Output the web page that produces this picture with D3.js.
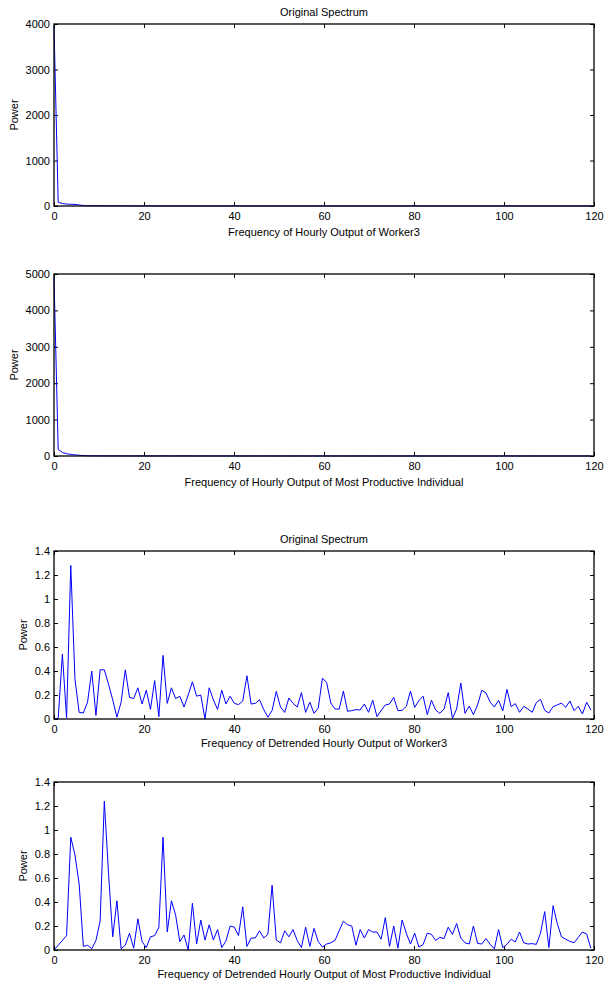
<!DOCTYPE html>
<html>
<head>
<meta charset="utf-8">
<script src="https://cdn.jsdelivr.net/npm/d3@7"></script>
<style>
  html, body { margin: 0; padding: 0; background: #fff; }
  svg text { font-family: "Liberation Sans", Arial, Helvetica, sans-serif; fill: #000; }
</style>
</head>
<body>
<svg id="chart" width="609" height="983"></svg>
<script>
// ---------------- data ----------------
const FREQ_STEP = 0.932;            // spacing of the frequency grid
const xTicks = [0, 20, 40, 60, 80, 100, 120];
const yTicksWorker = [0, 1000, 2000, 3000, 4000];
const yTicksIndividual = [0, 1000, 2000, 3000, 4000, 5000];
const yTicksDetrended = [0, 0.2, 0.4, 0.6, 0.8, 1, 1.2, 1.4];

const titles = ["Original Spectrum", "", "Original Spectrum", ""];
const xLabels = [
  "Frequency of Hourly Output of Worker3",
  "Frequency of Hourly Output of Most Productive Individual",
  "Frequency of Detrended Hourly Output of Worker3",
  "Frequency of Detrended Hourly Output of Most Productive Individual"
];
const yLabel = "Power";

const powerWorker3 = [
  3950, 80, 55, 42, 38, 34, 22, 12, 8, 6,
  5, 5, 4, 4, 3, 4, 3, 3, 2, 3,
  3, 2, 2, 3, 2, 2, 3, 2, 2, 2,
  2, 3, 2, 2, 1, 2, 2, 1, 2, 2,
  2, 1, 2, 2, 1, 1, 2, 1, 2, 1,
  1, 2, 1, 1, 2, 1, 1, 1, 2, 1,
  1, 1, 2, 1, 1, 1, 1, 2, 1, 1,
  1, 1, 1, 2, 1, 1, 1, 1, 1, 2,
  1, 1, 1, 1, 1, 1, 2, 1, 1, 1,
  1, 1, 1, 1, 1, 2, 1, 1, 1, 1,
  1, 1, 1, 1, 1, 1, 1, 1, 2, 1,
  1, 1, 1, 1, 1, 1, 1, 1, 1, 1,
  1, 1, 1, 1, 1, 1, 1, 1, 1
];
const powerIndividual = [
  4900, 180, 100, 62, 45, 30, 20, 12, 8, 6,
  5, 4, 4, 3, 3, 3, 2, 3, 2, 2,
  3, 2, 2, 3, 2, 2, 3, 2, 2, 2,
  2, 3, 2, 2, 1, 2, 2, 1, 2, 2,
  2, 1, 2, 2, 1, 1, 2, 1, 2, 1,
  1, 2, 1, 1, 2, 1, 1, 1, 2, 1,
  1, 1, 2, 1, 1, 1, 1, 2, 1, 1,
  1, 1, 1, 2, 1, 1, 1, 1, 1, 2,
  1, 1, 1, 1, 1, 1, 2, 1, 1, 1,
  1, 1, 1, 1, 1, 2, 1, 1, 1, 1,
  1, 1, 1, 1, 1, 1, 1, 1, 2, 1,
  1, 1, 1, 1, 1, 1, 1, 1, 1, 1,
  1, 1, 1, 1, 1, 1, 1, 1, 1
];
const powerDetrendedWorker3 = [
  0, 0.005, 0.54, 0.01, 1.28, 0.33, 0.055, 0.05, 0.14, 0.40,
  0.03, 0.41, 0.41, 0.29, 0.16, 0.015, 0.14, 0.41, 0.18, 0.17,
  0.26, 0.125, 0.24, 0.08, 0.32, 0.02, 0.53, 0.13, 0.26, 0.17,
  0.19, 0.10, 0.20, 0.31, 0.19, 0.20, 0.0, 0.26, 0.16, 0.08,
  0.24, 0.125, 0.19, 0.13, 0.12, 0.15, 0.36, 0.125, 0.13, 0.16,
  0.08, 0.015, 0.07, 0.23, 0.10, 0.055, 0.175, 0.13, 0.10, 0.22,
  0.055, 0.14, 0.047, 0.09, 0.34, 0.305, 0.133, 0.083, 0.083, 0.233,
  0.064, 0.07, 0.078, 0.075, 0.125, 0.056, 0.156, 0.02, 0.07, 0.117,
  0.125, 0.18, 0.07, 0.072, 0.105, 0.233, 0.097, 0.153, 0.19, 0.036,
  0.156, 0.075, 0.047, 0.083, 0.22, 0.005, 0.083, 0.30, 0.047, 0.108,
  0.036, 0.117, 0.24, 0.217, 0.14, 0.10, 0.156, 0.067, 0.247, 0.103,
  0.128, 0.056, 0.105, 0.083, 0.056, 0.136, 0.164, 0.072, 0.05, 0.103,
  0.117, 0.133, 0.097, 0.15, 0.07, 0.105, 0.042, 0.14, 0.075
];
const powerDetrendedIndividual = [
  0, 0.04, 0.08, 0.12, 0.94, 0.79, 0.55, 0.03, 0.04, 0.01,
  0.08, 0.24, 1.24, 0.64, 0.11, 0.41, 0.01, 0.04, 0.14, 0.015,
  0.26, 0.07, 0.02, 0.11, 0.12, 0.19, 0.94, 0.15, 0.41, 0.29,
  0.07, 0.125, 0.0, 0.39, 0.05, 0.25, 0.083, 0.21, 0.083, 0.17,
  0.02, 0.075, 0.20, 0.19, 0.12, 0.36, 0.03, 0.10, 0.10, 0.16,
  0.10, 0.13, 0.54, 0.083, 0.06, 0.16, 0.11, 0.17, 0.078, 0.02,
  0.19, 0.03, 0.18, 0.07, 0.025, 0.05, 0.06, 0.08, 0.16, 0.24,
  0.21, 0.20, 0.04, 0.17, 0.10, 0.17, 0.15, 0.15, 0.09, 0.27,
  0.03, 0.20, 0.015, 0.25, 0.14, 0.05, 0.14, 0.025, 0.045, 0.14,
  0.13, 0.08, 0.105, 0.095, 0.19, 0.13, 0.22, 0.10, 0.06, 0.05,
  0.20, 0.055, 0.05, 0.095, 0.047, 0.01, 0.17, 0.02, 0.047, 0.09,
  0.067, 0.15, 0.06, 0.05, 0.053, 0.047, 0.14, 0.32, 0.02, 0.37,
  0.22, 0.11, 0.09, 0.072, 0.06, 0.105, 0.15, 0.133, 0.015
];

// ---------------- layout ----------------
const svg = d3.select("#chart");
const LEFT = 54, RIGHT = 594;
const panels = [
  { series: powerWorker3, yTicks: yTicksWorker, top: 24, bottom: 206, ylabX: 14, xlabOff: 30 },
  { series: powerIndividual, yTicks: yTicksIndividual, top: 274, bottom: 456, ylabX: 14, xlabOff: 30 },
  { series: powerDetrendedWorker3, yTicks: yTicksDetrended, top: 551, bottom: 719, ylabX: 23, xlabOff: 28 },
  { series: powerDetrendedIndividual, yTicks: yTicksDetrended, top: 782, bottom: 950, ylabX: 23, xlabOff: 28 }
];

const fmtY = d => (Math.abs(d) < 1e-9 ? "0" : String(+d.toFixed(1)));

panels.forEach((p, k) => {
  const x = d3.scaleLinear().domain([0, 120]).range([LEFT, RIGHT]);
  const yMax = p.yTicks[p.yTicks.length - 1];
  const y = d3.scaleLinear().domain([0, yMax]).range([p.bottom, p.top]);
  const g = svg.append("g");

  // bottom axis with labels (ticks inside)
  const bx = g.append("g").attr("transform", `translate(0,${p.bottom})`)
    .call(d3.axisBottom(x).tickValues(xTicks).tickSize(-4).tickPadding(6).tickFormat(d3.format("d")));
  // top axis ticks
  const tx = g.append("g").attr("transform", `translate(0,${p.top})`)
    .call(d3.axisTop(x).tickValues(xTicks).tickSize(-4).tickFormat(""));
  // left axis with labels
  const ly = g.append("g").attr("transform", `translate(${LEFT},0)`)
    .call(d3.axisLeft(y).tickValues(p.yTicks).tickSize(-4).tickPadding(4).tickFormat(fmtY));
  // right axis ticks
  const ry = g.append("g").attr("transform", `translate(${RIGHT},0)`)
    .call(d3.axisRight(y).tickValues(p.yTicks).tickSize(-4).tickFormat(""));

  [bx, tx, ly, ry].forEach(a => {
    a.select(".domain").remove();
    a.selectAll(".tick line").attr("stroke", "#000").attr("stroke-width", 1);
    a.selectAll(".tick text").attr("font-size", 11).attr("font-family", "Liberation Sans, Arial, sans-serif").attr("fill", "#000");
  });

  // data line
  const line = d3.line()
    .x((d, i) => x(i * FREQ_STEP))
    .y(d => y(d));
  g.append("path")
    .datum(p.series)
    .attr("fill", "none")
    .attr("stroke", "#0000ff")
    .attr("stroke-width", 1)
    .attr("stroke-linejoin", "round")
    .attr("d", line);

  // frame
  g.append("rect")
    .attr("x", LEFT).attr("y", p.top)
    .attr("width", RIGHT - LEFT).attr("height", p.bottom - p.top)
    .attr("fill", "none").attr("stroke", "#000").attr("stroke-width", 1.3);

  // title
  if (titles[k]) {
    g.append("text")
      .attr("x", (LEFT + RIGHT) / 2).attr("y", p.top - 8)
      .attr("text-anchor", "middle").attr("font-size", 11)
      .text(titles[k]);
  }
  // x label
  g.append("text")
    .attr("x", (LEFT + RIGHT) / 2).attr("y", p.bottom + p.xlabOff)
    .attr("text-anchor", "middle").attr("font-size", 11)
    .text(xLabels[k]);
  // y label
  g.append("text")
    .attr("transform", `translate(${p.ylabX},${(p.top + p.bottom) / 2}) rotate(-90)`)
    .attr("text-anchor", "middle").attr("dy", "0.35em").attr("font-size", 11)
    .text(yLabel);
});
</script>
</body>
</html>
